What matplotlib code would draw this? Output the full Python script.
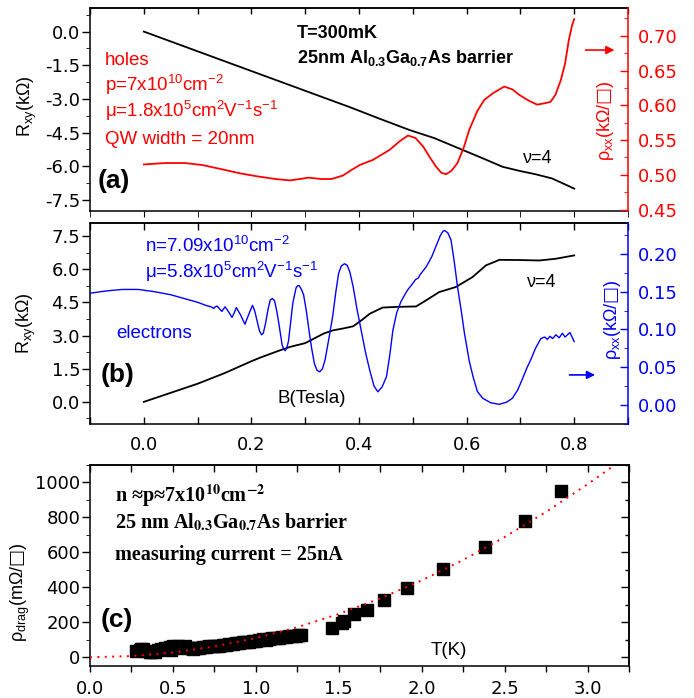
import matplotlib
matplotlib.use('Agg')
import matplotlib.pyplot as plt
from matplotlib.ticker import MultipleLocator

plt.rcParams['font.family'] = ['Liberation Sans', 'DejaVu Sans']
plt.rcParams['mathtext.fontset'] = 'custom'
plt.rcParams['mathtext.rm'] = 'Liberation Sans'
plt.rcParams['mathtext.it'] = 'Liberation Sans:italic'
plt.rcParams['mathtext.bf'] = 'Liberation Sans:bold'
plt.rcParams['mathtext.sf'] = 'DejaVu Sans'
plt.rcParams['mathtext.fallback'] = 'stix'
plt.rcParams['axes.linewidth'] = 1.1

RED = '#ff0000'
BLUE = '#0000ff'

# ---- panel (a): holes ----
hole_B_rxy = [0.0, 0.1, 0.2, 0.3, 0.383, 0.44, 0.494, 0.54, 0.586, 0.63, 0.667,
              0.70, 0.728, 0.759, 0.80]
hole_rxy = [0.0, -0.88, -1.76, -2.64, -3.37, -3.9, -4.39, -4.75, -5.21, -5.65, -6.03,
            -6.22, -6.36, -6.55, -7.0]

hole_B_rho = [0.0, 0.04, 0.077, 0.11, 0.151, 0.18, 0.213, 0.245, 0.272, 0.29, 0.306,
              0.33, 0.349, 0.37, 0.386, 0.401, 0.426, 0.457, 0.475, 0.491, 0.505,
              0.519, 0.531, 0.543, 0.553, 0.562, 0.572, 0.583, 0.595, 0.605, 0.62,
              0.633, 0.65, 0.67, 0.685, 0.698, 0.715, 0.731, 0.745, 0.756, 0.765,
              0.775, 0.783, 0.79, 0.796, 0.80]
hole_rho = [0.515, 0.517, 0.517, 0.514, 0.507, 0.502, 0.4976, 0.494, 0.492, 0.494, 0.496,
            0.494, 0.494, 0.499, 0.507, 0.514, 0.5216, 0.536, 0.548, 0.5566, 0.553,
            0.541, 0.526, 0.512, 0.503, 0.501, 0.506, 0.517, 0.54, 0.565, 0.592,
            0.608, 0.618, 0.627, 0.623, 0.615, 0.607, 0.601, 0.603, 0.605, 0.615,
            0.636, 0.66, 0.694, 0.715, 0.724]

# ---- panel (b): electrons ----
elec_B_rxy = [0.0, 0.05, 0.101, 0.15, 0.2, 0.216, 0.237, 0.255, 0.272, 0.29, 0.3,
              0.315, 0.335, 0.352, 0.37, 0.389, 0.405, 0.42, 0.444, 0.47, 0.506,
              0.525, 0.549, 0.58, 0.611, 0.636, 0.661, 0.70, 0.735, 0.766, 0.80]
elec_rxy = [0.0, 0.41, 0.83, 1.3, 1.84, 2.0, 2.19, 2.35, 2.49, 2.6, 2.66,
            2.85, 3.1, 3.24, 3.32, 3.42, 3.7, 3.99, 4.27, 4.3, 4.32,
            4.6, 4.97, 5.2, 5.65, 6.18, 6.43, 6.42, 6.40, 6.48, 6.63]

elec_B_rho = [-0.10, -0.07, -0.04, -0.01, 0.02, 0.05, 0.08, 0.10, 0.115, 0.125,
              0.130, 0.133, 0.136, 0.140, 0.145, 0.148, 0.151, 0.157, 0.164, 0.168,
              0.172, 0.180, 0.188, 0.195, 0.202, 0.206, 0.210, 0.215, 0.219, 0.222,
              0.226, 0.231, 0.235, 0.239, 0.243, 0.247, 0.251, 0.257, 0.260, 0.263,
              0.266, 0.269, 0.273, 0.277, 0.283, 0.286, 0.289, 0.293, 0.297, 0.302,
              0.307, 0.312, 0.317, 0.322, 0.327, 0.332, 0.337, 0.344, 0.351, 0.357,
              0.362, 0.367, 0.373, 0.378, 0.383, 0.389, 0.396, 0.404, 0.412, 0.420,
              0.428, 0.435, 0.443, 0.451, 0.457, 0.463, 0.470, 0.478, 0.490, 0.500,
              0.505, 0.510, 0.514, 0.525, 0.535, 0.543, 0.551, 0.556, 0.559, 0.565,
              0.571, 0.577, 0.583, 0.590, 0.596, 0.605, 0.612, 0.620, 0.630, 0.645,
              0.661, 0.675, 0.685, 0.695, 0.704, 0.712, 0.719, 0.728, 0.738, 0.745,
              0.750, 0.755, 0.760, 0.766, 0.772, 0.778, 0.783, 0.787, 0.792, 0.796,
              0.800]
elec_rho = [0.148, 0.151, 0.153, 0.153, 0.150, 0.146, 0.140, 0.136, 0.132, 0.130,
            0.128, 0.130, 0.131, 0.128, 0.124, 0.127, 0.130, 0.124, 0.116, 0.122,
            0.129, 0.119, 0.107, 0.120, 0.132, 0.125, 0.113, 0.098, 0.093, 0.095,
            0.107, 0.127, 0.139, 0.141, 0.138, 0.125, 0.108, 0.080, 0.074, 0.072,
            0.076, 0.085, 0.110, 0.135, 0.155, 0.158, 0.158, 0.153, 0.146, 0.125,
            0.099, 0.075, 0.055, 0.046, 0.044, 0.048, 0.060, 0.088, 0.117, 0.150,
            0.174, 0.184, 0.187, 0.185, 0.176, 0.157, 0.128, 0.099, 0.070, 0.046,
            0.025, 0.0176, 0.024, 0.0375, 0.065, 0.099, 0.122, 0.137, 0.152, 0.161,
            0.166, 0.168, 0.173, 0.183, 0.196, 0.210, 0.224, 0.230, 0.231, 0.228,
            0.2185, 0.190, 0.157, 0.125, 0.095, 0.058, 0.0375, 0.018, 0.009, 0.003,
            0.001, 0.004, 0.009, 0.020, 0.035, 0.049, 0.0596, 0.075, 0.088, 0.090,
            0.087, 0.091, 0.088, 0.093, 0.089, 0.095, 0.090, 0.0927, 0.096, 0.090,
            0.084]

# ---- panel (c): drag ----
drag_T = [0.28, 0.30, 0.31, 0.32, 0.34, 0.36, 0.37, 0.39, 0.41, 0.43,
          0.45, 0.46, 0.48, 0.49, 0.50, 0.52, 0.53, 0.55, 0.57, 0.59,
          0.61, 0.62, 0.64, 0.66, 0.68, 0.70, 0.72, 0.74, 0.76, 0.78,
          0.80, 0.82, 0.84, 0.86, 0.88, 0.90, 0.92, 0.94, 0.96, 0.98,
          1.00, 1.02, 1.04, 1.06, 1.08, 1.10, 1.12, 1.14, 1.16, 1.18,
          1.20, 1.22, 1.24, 1.26, 1.27,
          1.46, 1.52, 1.53, 1.59, 1.67, 1.77, 1.91, 2.13, 2.38, 2.62, 2.84]
drag_rho = [35, 42, 48, 45, 38, 30, 28, 33, 42, 48,
            55, 50, 60, 42, 64, 55, 62, 58, 64, 56,
            52, 50, 54, 56, 58, 60, 63, 62, 67, 66,
            70, 72, 75, 74, 80, 82, 86, 85, 90, 92,
            96, 98, 102, 100, 106, 108, 112, 110, 116, 118,
            120, 122, 124, 126, 130,
            167, 195, 205, 246, 272, 329, 398, 505, 629, 781, 952]

fit_T = [0.0, 0.25, 0.5, 0.75, 1.0, 1.25, 1.5, 1.75, 2.0, 2.25, 2.5, 2.75, 3.0, 3.16]
fit_rho = [0, 7, 27, 62, 110, 172, 248, 337, 440, 557, 688, 832, 990, 1098]

TICK_KW = dict(labelsize=13, labelfontfamily='DejaVu Sans', width=1.0)


def top_ticks(ax, major, minor, length=4):
    sec = ax.secondary_xaxis('top')
    sec.xaxis.set_major_locator(MultipleLocator(major))
    sec.xaxis.set_minor_locator(MultipleLocator(minor))
    sec.tick_params(which='both', direction='in', length=length, width=1.0,
                    labeltop=False)
    return sec


fig = plt.figure(figsize=(6.94, 6.98), dpi=100)
ax_a = fig.add_axes([0.1297, 0.6977, 0.7752, 0.2908])
ax_b = fig.add_axes([0.1297, 0.3926, 0.7752, 0.288])
ax_c = fig.add_axes([0.1297, 0.0458, 0.7767, 0.288])

# ---------- (a) ----------
ax_a.plot(hole_B_rxy, hole_rxy, color='black', lw=1.3)
ax_a.set_xlim(-0.1, 0.9)
ax_a.set_ylim(-8.0, 1.05)
ax_a.xaxis.set_major_locator(MultipleLocator(0.2))
ax_a.xaxis.set_minor_locator(MultipleLocator(0.1))
ax_a.yaxis.set_major_locator(MultipleLocator(1.5))
ax_a.yaxis.set_minor_locator(MultipleLocator(0.75))
ax_a.yaxis.set_major_formatter(lambda v, p: f'{v:.1f}')
ax_a.tick_params(axis='x', which='both', direction='out', length=4, labelbottom=False)
ax_a.tick_params(axis='y', which='major', direction='out', length=6, pad=1, **TICK_KW)
ax_a.tick_params(axis='y', which='minor', direction='out', length=3)
ax_a.spines['right'].set_visible(False)
top_ticks(ax_a, 0.2, 0.1)
ax_a.set_ylabel('R$_{\\mathrm{xy}}$(kΩ)', fontsize=13)
ax_a.yaxis.set_label_coords(-0.095, 0.517)

ax_a2 = ax_a.twinx()
ax_a2.plot(hole_B_rho, hole_rho, color=RED, lw=1.3)
ax_a2.set_ylim(0.448, 0.74)
ax_a2.yaxis.set_major_locator(MultipleLocator(0.05))
ax_a2.yaxis.set_minor_locator(MultipleLocator(0.025))
ax_a2.yaxis.set_major_formatter(lambda v, p: f'{v:.2f}')
for s in ['left', 'top', 'bottom']:
    ax_a2.spines[s].set_visible(False)
ax_a2.spines['right'].set_color(RED)
ax_a2.tick_params(axis='y', which='major', direction='in', length=6, color=RED,
                  labelcolor=RED, pad=7, **TICK_KW)
ax_a2.tick_params(axis='y', which='minor', direction='in', length=3, color=RED)
ax_a2.set_ylabel('ρ$_{\\mathrm{xx}}$(kΩ/$\\mathsf{□}$)', fontsize=13, color=RED)
ax_a2.yaxis.set_label_coords(0.939, 0.448)

ax_a.text(0.385, 0.852, 'T=300mK', transform=ax_a.transAxes, fontsize=13,
          fontweight='bold', va='baseline')
ax_a.text(0.385, 0.729, '25nm Al$_{\\mathbf{0.3}}$Ga$_{\\mathbf{0.7}}$As barrier',
          transform=ax_a.transAxes, fontsize=13, fontweight='bold', va='baseline')
hole_lines = ['holes', 'p=7x10$^{10}$cm$^{-2}$',
              'μ=1.8x10$^{5}$cm$^{2}$V$^{-1}$s$^{-1}$', 'QW width = 20nm']
for i, line in enumerate(hole_lines):
    ax_a.text(0.028, 0.719 - i * 0.129, line, transform=ax_a.transAxes,
              fontsize=13.5, color=RED, va='baseline')
ax_a.text(0.015, 0.113, '(a)', transform=ax_a.transAxes, fontsize=19,
          fontweight='bold', va='baseline')
ax_a.text(0.805, 0.236, 'ν=4', transform=ax_a.transAxes, fontsize=13, va='baseline')
ax_a.annotate('', xy=(0.98, 0.793), xytext=(0.916, 0.793), xycoords='axes fraction',
              arrowprops=dict(arrowstyle='-|>', color=RED, lw=1.2,
                              mutation_scale=12))

# ---------- (b) ----------
ax_b.plot(elec_B_rxy, elec_rxy, color='black', lw=1.3)
ax_b.set_xlim(-0.1, 0.9)
ax_b.set_ylim(-1.0, 8.1)
ax_b.xaxis.set_major_locator(MultipleLocator(0.2))
ax_b.xaxis.set_minor_locator(MultipleLocator(0.1))
ax_b.xaxis.set_major_formatter(lambda v, p: f'{v:.1f}')
ax_b.yaxis.set_major_locator(MultipleLocator(1.5))
ax_b.yaxis.set_minor_locator(MultipleLocator(0.75))
ax_b.yaxis.set_major_formatter(lambda v, p: f'{v:.1f}')
ax_b.tick_params(axis='x', which='both', direction='in', length=5, pad=9, **TICK_KW)
ax_b.tick_params(axis='y', which='major', direction='out', length=6, pad=1, **TICK_KW)
ax_b.tick_params(axis='y', which='minor', direction='out', length=3)
ax_b.spines['right'].set_visible(False)
top_ticks(ax_b, 0.2, 0.1, length=5)
ax_b.set_ylabel('R$_{\\mathrm{xy}}$(kΩ)', fontsize=13)
ax_b.yaxis.set_label_coords(-0.097, 0.502)

ax_b2 = ax_b.twinx()
ax_b2.plot(elec_B_rho, elec_rho, color=BLUE, lw=1.0)
ax_b2.set_ylim(-0.025, 0.241)
ax_b2.yaxis.set_major_locator(MultipleLocator(0.05))
ax_b2.yaxis.set_minor_locator(MultipleLocator(0.025))
ax_b2.yaxis.set_major_formatter(lambda v, p: f'{abs(v):.2f}' if abs(v) < 1e-9 else f'{v:.2f}')
for s in ['left', 'top', 'bottom']:
    ax_b2.spines[s].set_visible(False)
ax_b2.spines['right'].set_color(BLUE)
ax_b2.tick_params(axis='y', which='major', direction='in', length=6, color=BLUE,
                  labelcolor=BLUE, pad=7, **TICK_KW)
ax_b2.tick_params(axis='y', which='minor', direction='in', length=3, color=BLUE)
ax_b2.set_ylabel('ρ$_{\\mathrm{xx}}$(kΩ/$\\mathsf{□}$)', fontsize=13, color=BLUE)
ax_b2.yaxis.set_label_coords(0.952, 0.517)

ax_b.text(0.102, 0.857, 'n=7.09x10$^{10}$cm$^{-2}$', transform=ax_b.transAxes,
          fontsize=13.5, color=BLUE, va='baseline')
ax_b.text(0.102, 0.725, 'μ=5.8x10$^{5}$cm$^{2}$V$^{-1}$s$^{-1}$', transform=ax_b.transAxes,
          fontsize=13.5, color=BLUE, va='baseline')
ax_b.text(0.048, 0.428, 'electrons', transform=ax_b.transAxes, fontsize=13.5,
          color=BLUE, va='baseline')
ax_b.text(0.019, 0.209, '(b)', transform=ax_b.transAxes, fontsize=19,
          fontweight='bold', va='baseline')
ax_b.text(0.348, 0.104, 'B(Tesla)', transform=ax_b.transAxes, fontsize=13.5,
          va='baseline')
ax_b.text(0.812, 0.682, 'ν=4', transform=ax_b.transAxes, fontsize=13, va='baseline')
ax_b.annotate('', xy=(0.944, 0.244), xytext=(0.886, 0.244), xycoords='axes fraction',
              arrowprops=dict(arrowstyle='-|>', color=BLUE, lw=1.2,
                              mutation_scale=12))

# ---------- (c) ----------
ax_c.plot(fit_T, fit_rho, color=RED, lw=1.4, dashes=(1, 2.8), zorder=3)
ax_c.plot(drag_T, drag_rho, 's', color='black', markersize=8, zorder=2)
ax_c.set_xlim(0, 3.25)
ax_c.set_ylim(-50, 1100)
ax_c.xaxis.set_major_locator(MultipleLocator(0.5))
ax_c.xaxis.set_minor_locator(MultipleLocator(0.25))
ax_c.xaxis.set_major_formatter(lambda v, p: f'{v:.1f}')
ax_c.yaxis.set_major_locator(MultipleLocator(200))
ax_c.yaxis.set_minor_locator(MultipleLocator(100))
ax_c.tick_params(axis='x', which='both', direction='out', length=4, pad=6, **TICK_KW)
ax_c.tick_params(axis='y', which='major', direction='out', length=6, pad=1, **TICK_KW)
ax_c.tick_params(axis='y', which='minor', direction='out', length=3)
top_ticks(ax_c, 0.5, 0.25, length=5)
sec_r = ax_c.secondary_yaxis('right')
sec_r.yaxis.set_major_locator(MultipleLocator(200))
sec_r.yaxis.set_minor_locator(MultipleLocator(100))
sec_r.tick_params(which='major', direction='in', length=6, width=1.0, labelright=False)
sec_r.tick_params(which='minor', direction='in', length=3, width=1.0)
ax_c.set_ylabel('ρ$_{\\mathrm{drag}}$(mΩ/$\\mathsf{□}$)', fontsize=13)
ax_c.yaxis.set_label_coords(-0.108, 0.368)

serif_kw = dict(transform=ax_c.transAxes, fontsize=14.5, fontweight='bold',
                family='Liberation Serif', math_fontfamily='stix', va='baseline')
ax_c.text(0.046, 0.817, 'n ≈p≈7x10$^{\\mathbf{10}}$cm$^{\\mathbf{-2}}$', **serif_kw)
ax_c.text(0.046, 0.685, '25 nm Al$_{\\mathbf{0.3}}$Ga$_{\\mathbf{0.7}}$As barrier', **serif_kw)
ax_c.text(0.046, 0.527, 'measuring current = 25nA', **serif_kw)
ax_c.text(0.019, 0.194, '(c)', transform=ax_c.transAxes, fontsize=19,
          fontweight='bold', va='baseline')
ax_c.text(0.631, 0.055, 'T(K)', transform=ax_c.transAxes, fontsize=13.5, va='baseline')

fig.savefig('out.png', dpi=100)
